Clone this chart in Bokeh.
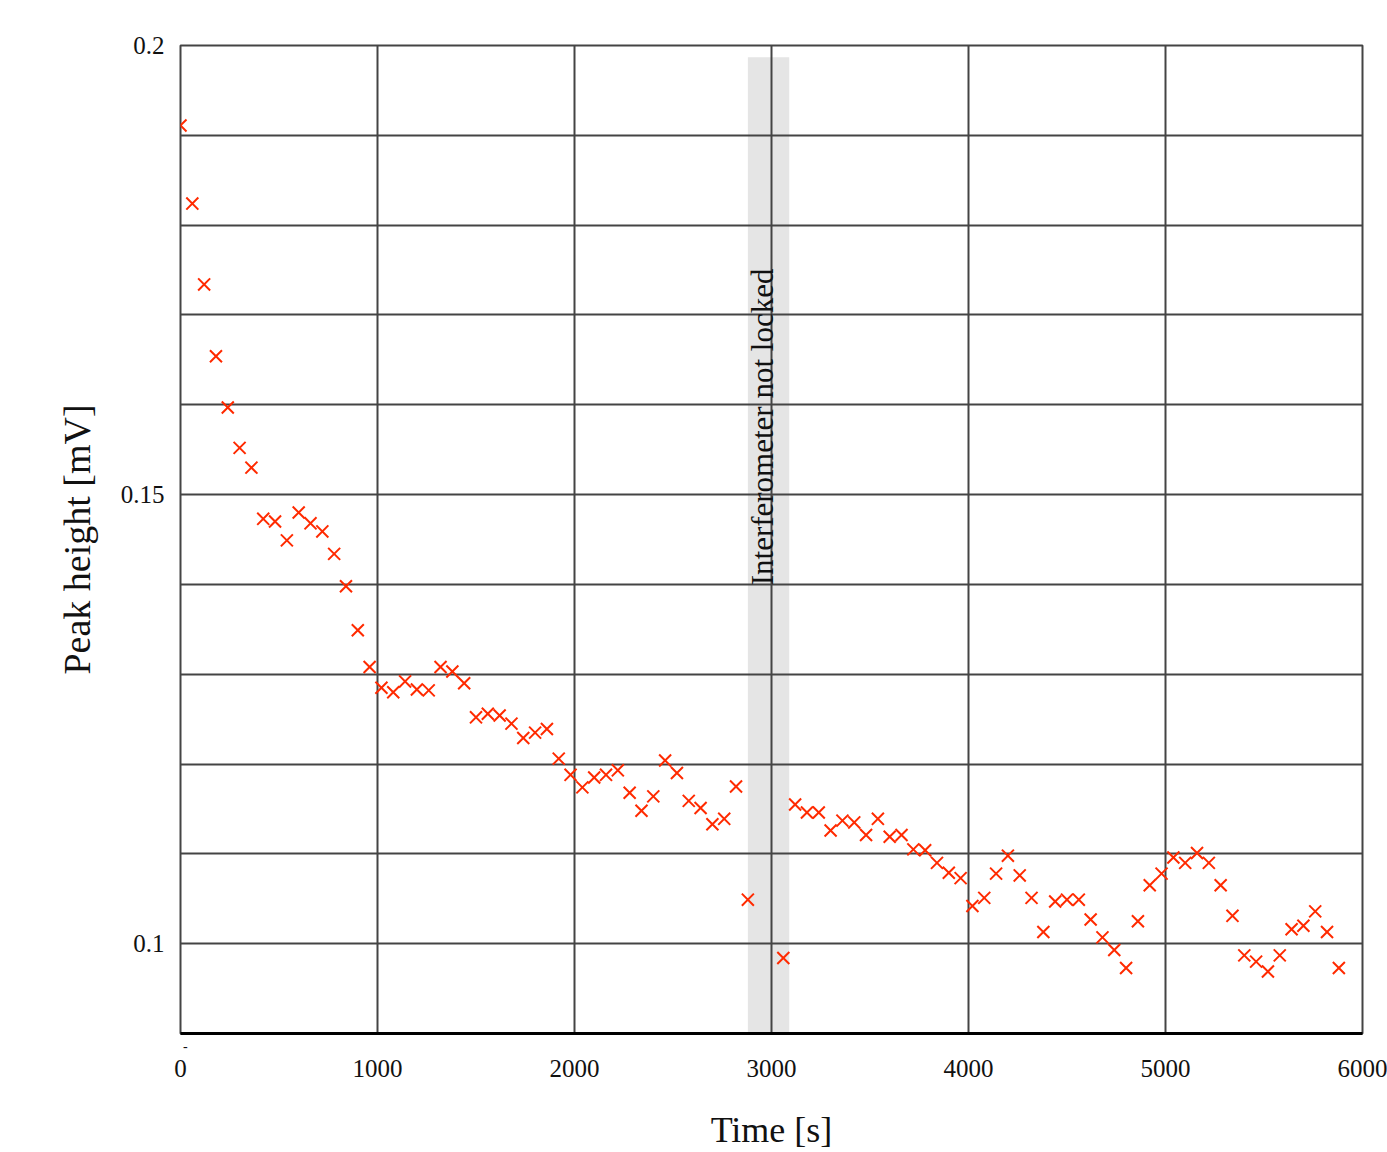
import numpy as np
from bokeh.plotting import figure
from bokeh.models import FixedTicker, LinearAxis
from bokeh.embed import file_html
from bokeh.resources import INLINE
from bokeh.core.properties import value

time_s = [0, 60, 120, 180, 240, 300, 360, 420, 480, 540, 600, 660, 720, 780, 840, 900,
          960, 1020, 1080, 1140, 1200, 1260, 1320, 1380, 1440, 1500, 1560, 1620, 1680,
          1740, 1800, 1860, 1920, 1980, 2040, 2100, 2160, 2220, 2280, 2340, 2400, 2460,
          2520, 2580, 2640, 2700, 2760, 2820, 2880, 3060, 3120, 3180, 3240, 3300, 3360,
          3420, 3480, 3540, 3600, 3660, 3720, 3780, 3840, 3900, 3960, 4020, 4080, 4140,
          4200, 4260, 4320, 4380, 4440, 4500, 4560, 4620, 4680, 4740, 4800, 4860, 4920,
          4980, 5040, 5100, 5160, 5220, 5280, 5340, 5400, 5460, 5520, 5580, 5640, 5700,
          5760, 5820, 5880]
peak_mV = [0.1911, 0.1824, 0.1734, 0.1654, 0.1597, 0.1552, 0.1530, 0.1473, 0.1470,
           0.1449, 0.1480, 0.1468, 0.1459, 0.1434, 0.1398, 0.1349, 0.1308, 0.1285,
           0.1280, 0.1292, 0.1283, 0.1282, 0.1308, 0.1303, 0.1290, 0.1252, 0.1256,
           0.1254, 0.1245, 0.1229, 0.1235, 0.1239, 0.1206, 0.1188, 0.1174, 0.1185,
           0.1188, 0.1193, 0.1168, 0.1148, 0.1164, 0.1204, 0.1190, 0.1159, 0.1151,
           0.1133, 0.1139, 0.1175, 0.1049, 0.0984, 0.1155, 0.1146, 0.1146, 0.1126,
           0.1137, 0.1135, 0.1121, 0.1139, 0.1119, 0.1121, 0.1105, 0.1104, 0.1090,
           0.1079, 0.1073, 0.1042, 0.1051, 0.1078, 0.1098, 0.1076, 0.1051, 0.1013,
           0.1047, 0.1049, 0.1049, 0.1027, 0.1007, 0.0993, 0.0973, 0.1025, 0.1065,
           0.1078, 0.1096, 0.1090, 0.1101, 0.1090, 0.1065, 0.1031, 0.0987, 0.0980,
           0.0969, 0.0987, 0.1016, 0.1020, 0.1036, 0.1013, 0.0973]

x_ticks = [0, 1000, 2000, 3000, 4000, 5000, 6000]
y_ticks = [0.1, 0.15, 0.2]
y_grid = [0.09, 0.10, 0.11, 0.12, 0.13, 0.14, 0.15, 0.16, 0.17, 0.18, 0.19, 0.20]
dash_tick = [25]
dash_text = "-"

band_left, band_right = 2880, 3090
band_bottom, band_top = 0.09, 0.1987
band_text = "Interferometer not locked"
band_text_x, band_text_y = 2954, 0.1399

SERIF = "Liberation Serif"

p = figure(width=1387, height=1152, x_range=(0, 6000), y_range=(0.09, 0.2),
           output_backend="svg", toolbar_location=None, x_axis_location=None,
           min_border_left=180, min_border_right=25, min_border_top=45, min_border_bottom=100)

p.background_fill_color = "white"
p.border_fill_color = "white"
p.outline_line_color = "#444444"
p.outline_line_width = 2

# grey band under the grid
p.quad(left=[band_left], right=[band_right], bottom=[band_bottom], top=[band_top],
       fill_color="#e5e5e5", line_color=None, level="image")

p.scatter(time_s, peak_mV, marker="x", size=17, line_color="#ff2a00", line_width=2)

p.text(x=[band_text_x], y=[band_text_y], text=[band_text], angle=np.pi / 2,
       text_align="left", text_baseline="middle", text_font=value(SERIF),
       text_font_size="31px", text_color="#111111")

# thin axis closest to the frame: black baseline and the small "-" mark
dash_axis = LinearAxis(ticker=FixedTicker(ticks=dash_tick),
                       major_label_overrides={dash_tick[0]: dash_text})
dash_axis.axis_line_color = "black"
dash_axis.axis_line_width = 3
dash_axis.major_tick_line_color = None
dash_axis.minor_tick_line_color = None
dash_axis.major_label_standoff = 1
dash_axis.major_label_text_font = SERIF
dash_axis.major_label_text_font_size = "14px"
dash_axis.major_label_text_color = "#111111"
p.add_layout(dash_axis, "below")

x_axis = LinearAxis(ticker=FixedTicker(ticks=x_ticks), axis_label="Time [s]")
x_axis.axis_line_color = None
x_axis.major_tick_line_color = None
x_axis.minor_tick_line_color = None
x_axis.major_label_standoff = 0
x_axis.major_label_text_font = SERIF
x_axis.major_label_text_font_size = "25px"
x_axis.major_label_text_color = "#111111"
x_axis.axis_label_text_font = SERIF
x_axis.axis_label_text_font_style = "normal"
x_axis.axis_label_text_font_size = "36px"
x_axis.axis_label_text_color = "#111111"
x_axis.axis_label_standoff = 30
p.add_layout(x_axis, "below")

p.yaxis.ticker = FixedTicker(ticks=y_ticks)
p.xgrid.ticker = FixedTicker(ticks=x_ticks)
p.ygrid.ticker = FixedTicker(ticks=y_grid)
for g in (p.xgrid, p.ygrid):
    g.grid_line_color = "#444444"
    g.grid_line_width = 2
    g.grid_line_alpha = 1

ax = p.yaxis[0]
ax.axis_line_color = None
ax.major_tick_line_color = None
ax.minor_tick_line_color = None
ax.major_label_text_font = SERIF
ax.major_label_text_font_size = "25px"
ax.major_label_text_color = "#111111"
ax.major_label_standoff = 10
ax.axis_label = "Peak height [mV]"
ax.axis_label_text_font = SERIF
ax.axis_label_text_font_style = "normal"
ax.axis_label_text_font_size = "38px"
ax.axis_label_text_color = "#111111"
ax.axis_label_standoff = 20

open("out.html", "w").write(file_html(p, INLINE))
